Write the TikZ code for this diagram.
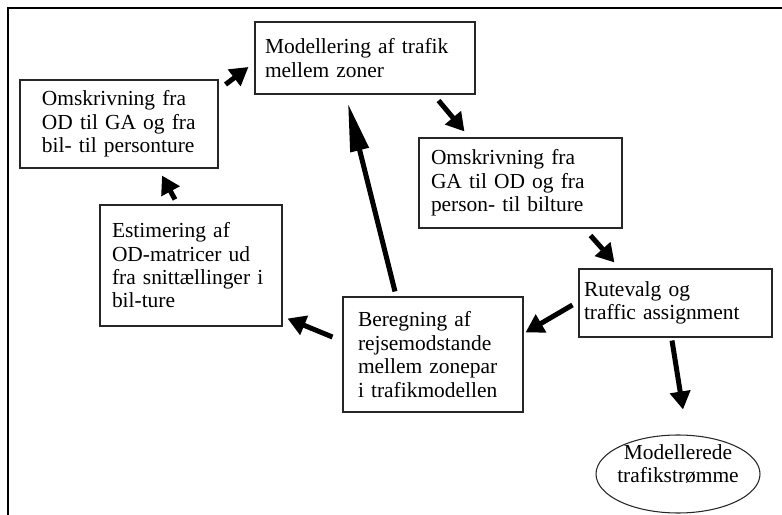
\documentclass[tikz,border=0pt]{standalone}
\usepackage{fontspec}
\setmainfont{Liberation Serif}
\usetikzlibrary{arrows.meta,shapes.geometric,calc}

\tikzset{
  boks/.style={draw=black!85, line width=0.6pt, align=left, inner ysep=0pt,
    font=\fontsize{12.2}{13.3}\selectfont},
  pil/.style={line width=1mm, -{Triangle[length=3.6mm,width=4mm]}},
  langpil/.style={line width=1mm, -{Triangle[length=9.6mm,width=3.6mm]}},
}

\begin{document}
\begin{tikzpicture}[x=0.2mm, y=-0.2mm]
  \useasboundingbox (0,0) rectangle (782,515);
  \draw[line width=1.4pt] (8,515) -- (8,8) -- (782,8); % ramme
  % kasser
  \node[boks, minimum width=44mm, minimum height=14.4mm, inner xsep=2mm, text width=40mm]
    (model) at (365,58) {Modellering af trafik\\mellem zoner};
  \node[boks, minimum width=39.6mm, minimum height=17.6mm, inner xsep=4.4mm, text width=30.8mm]
    (odga) at (119,124) {Omskrivning fra\\OD til GA og fra\\bil- til personture};
  \node[boks, minimum width=36.4mm, minimum height=24.2mm, inner xsep=2.4mm, text width=31.6mm]
    (estim) at (191,265.5) {Estimering af\\OD-matricer ud\\fra snittællinger i\\bil-ture};
  \node[boks, minimum width=40.6mm, minimum height=18mm, inner xsep=2.4mm, text width=35.8mm]
    (gaod) at (520.5,183) {Omskrivning fra\\GA til OD og fra\\person- til bilture};
  \node[boks, minimum width=38.6mm, minimum height=13.6mm, inner xsep=1mm, text width=36.6mm]
    (rute) at (675.5,303) {Rutevalg og\\traffic assignment};
  \node[boks, minimum width=36mm, minimum height=23mm, inner xsep=3mm, text width=30mm]
    (bereg) at (433,354.5) {Beregning af\\rejsemodstande\\mellem zonepar\\i trafikmodellen};
  % ellipse, teksten fylder næsten hele bredden
  \node[boks, ellipse, inner sep=0pt, minimum width=32.8mm, minimum height=15.6mm]
    (strom) at (678,474) {\makebox[0pt]{\smash{\raisebox{0.5mm}{%
      \begin{tabular}{@{}c@{}}Modellerede\\trafikstrømme\end{tabular}}}}};
  % pile
  \draw[pil] ($(odga.north east)+(7,5)$) -- ($(model.west)+(-6,9)$);
  \draw[pil] ($(estim.north)+(-16,-5)$) -- ($(odga.south)+(43,7)$);
  \draw[pil] ($(bereg.west)+(-10,-17.5)$) -- ($(estim.south east)+(5,-8)$);
  \draw[langpil] ($(bereg.north)+(-38,-5)$) -- ($(model.south)+(-17,9)$);
  \draw[pil] ($(model.south east)+(-37,6)$) -- ($(gaod.north west)+(46,-6)$);
  \draw[pil] ($(gaod.south east)+(-32,7)$) -- ($(rute.north west)+(36,-6)$);
  \draw[pil] ($(rute.west)+(-6,2)$) -- ($(bereg.north east)+(2,36)$);
  \draw[pil] ($(rute.south)+(-3.5,3)$) -- ($(strom.north)+(5,-25)$);
\end{tikzpicture}
\end{document}
